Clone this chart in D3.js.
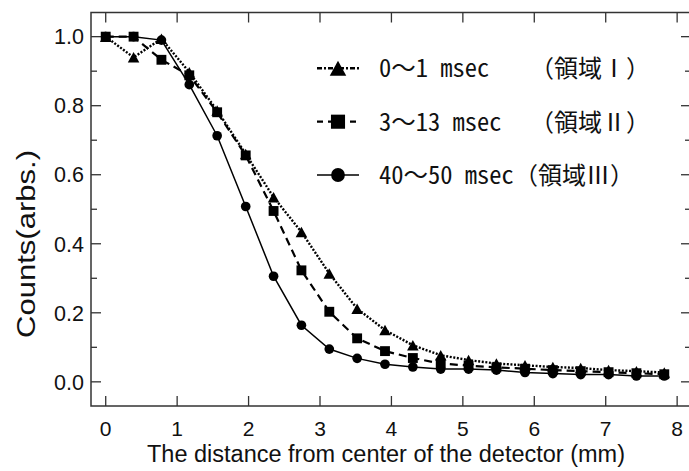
<!DOCTYPE html>
<html>
<head>
<meta charset="utf-8">
<script src="https://cdn.jsdelivr.net/npm/d3@7"></script>
<style>
  html, body { margin: 0; padding: 0; background: #fff; }
  svg { display: block; }
</style>
</head>
<body>
<div id="chart"></div>
<script>
// ---- data ----
const distance = [0, 0.39, 0.78, 1.17, 1.56, 1.96, 2.35, 2.74, 3.13, 3.52, 3.91, 4.30, 4.69, 5.08, 5.47, 5.87, 6.26, 6.65, 7.04, 7.43, 7.82];
const region1 = [1.0, 0.94, 0.994, 0.897, 0.786, 0.660, 0.535, 0.434, 0.314, 0.212, 0.150, 0.106, 0.077, 0.063, 0.053, 0.048, 0.043, 0.040, 0.034, 0.031, 0.027];
const region2 = [1.0, 1.0, 0.933, 0.888, 0.781, 0.656, 0.495, 0.323, 0.203, 0.126, 0.089, 0.069, 0.053, 0.047, 0.042, 0.038, 0.034, 0.031, 0.028, 0.025, 0.022];
const region3 = [1.0, 1.0, 0.99, 0.861, 0.713, 0.508, 0.306, 0.164, 0.095, 0.068, 0.051, 0.043, 0.037, 0.037, 0.034, 0.027, 0.024, 0.021, 0.021, 0.017, 0.017];
const legendRange = ["0～1 msec", "3～13 msec", "40～50 msec"];
const legendRegion = ["（領域Ⅰ）", "（領域Ⅱ）", "（領域Ⅲ）"];
const xTicks = [0, 1, 2, 3, 4, 5, 6, 7, 8];
const yTicks = [0.0, 0.2, 0.4, 0.6, 0.8, 1.0];
const yMinorTicks = [0.1, 0.3, 0.5, 0.7, 0.9];
const xTitle = "The distance from center of the detector (mm)";
const yTitle = "Counts(arbs.)";

// ---- layout ----
const W = 689, H = 471;
const L = 91, R = 690, T = 12.5, B = 406;

const svg = d3.select("#chart").append("svg").attr("width", W).attr("height", H);

const x = d3.scaleLinear().domain([-0.206, 8.18]).range([L, R]);
const y = d3.scaleLinear().domain([-0.07, 1.07]).range([B, T]);

const axisColor = "#333";
const g = svg.append("g");

// frame
g.append("rect").attr("x", L).attr("y", T).attr("width", R - L).attr("height", B - T)
  .attr("fill", "none").attr("stroke", axisColor).attr("stroke-width", 1.5);

// ticks (inward)
const xt = g.append("g").attr("stroke", axisColor).attr("stroke-width", 1.3);
xTicks.forEach(v => {
  xt.append("line").attr("x1", x(v)).attr("x2", x(v)).attr("y1", B).attr("y2", B - 10);
  xt.append("line").attr("x1", x(v)).attr("x2", x(v)).attr("y1", T).attr("y2", T + 10);
});
yTicks.forEach(v => {
  xt.append("line").attr("x1", L).attr("x2", L + 10).attr("y1", y(v)).attr("y2", y(v));
  xt.append("line").attr("x1", R).attr("x2", R - 9).attr("y1", y(v)).attr("y2", y(v));
});
yMinorTicks.forEach(v => {
  xt.append("line").attr("x1", L).attr("x2", L + 6).attr("y1", y(v)).attr("y2", y(v));
  xt.append("line").attr("x1", R).attr("x2", R - 5).attr("y1", y(v)).attr("y2", y(v));
});

const sansFont = "'Liberation Sans', Arial, sans-serif";
g.append("g").selectAll("text").data(yTicks).join("text")
  .attr("x", L - 7).attr("y", d => y(d)).attr("dy", "0.36em")
  .attr("text-anchor", "end").attr("font-family", sansFont).attr("font-size", 21.5)
  .attr("fill", "#111").text(d => d3.format(".1f")(d));
g.append("g").selectAll("text").data(xTicks).join("text")
  .attr("x", d => x(d)).attr("y", 436)
  .attr("text-anchor", "middle").attr("font-family", sansFont).attr("font-size", 21)
  .attr("fill", "#111").text(d => d);

// axis titles
g.append("text").attr("x", 386).attr("y", 462).attr("text-anchor", "middle")
  .attr("font-family", sansFont).attr("font-size", 23.5).attr("fill", "#111").text(xTitle);
g.append("text").attr("transform", "translate(26,244) rotate(-90)").attr("dy", "0.36em")
  .attr("text-anchor", "middle").attr("font-family", sansFont).attr("font-size", 25)
  .attr("textLength", 188).attr("lengthAdjust", "spacingAndGlyphs")
  .attr("fill", "#111").text(yTitle);

// ---- markers ----
function markerPath(type, s) {
  if (type === "triangle") {
    const w = s * 0.55, h = s * 0.5;
    return `M0,${-h}L${w},${h}L${-w},${h}Z`;
  }
  if (type === "square") {
    const h = s * 0.47;
    return `M${-h},${-h}H${h}V${h}H${-h}Z`;
  }
  return d3.arc()({innerRadius: 0, outerRadius: s * 0.46, startAngle: 0, endAngle: 2 * Math.PI});
}

const series = [
  {values: region3, marker: "circle", dash: null, width: 1.5},
  {values: region2, marker: "square", dash: "8,5", width: 2.2},
  {values: region1, marker: "triangle", dash: "2,1.6", width: 2.4},
];

const line = d3.line().x(d => x(d[0])).y(d => y(d[1]));
series.forEach(s => {
  const pts = distance.map((d, i) => [d, s.values[i]]);
  g.append("path").attr("d", line(pts)).attr("fill", "none").attr("stroke", "#000")
    .attr("stroke-width", s.width).attr("stroke-dasharray", s.dash);
});
series.forEach(s => {
  const pts = distance.map((d, i) => [d, s.values[i]]);
  g.append("g").selectAll("path").data(pts).join("path")
    .attr("transform", d => `translate(${x(d[0])},${y(d[1])})`)
    .attr("d", markerPath(s.marker, 10.5)).attr("fill", "#000");
});

// ---- legend ----
const legendSeries = [series[2], series[1], series[0]];
const monoFont = "'Noto Sans Mono CJK JP', 'Noto Sans CJK JP', 'DejaVu Sans Mono', monospace";
const cjkFont = "'Noto Sans CJK JP', sans-serif";
const rowY = [68.3, 121.7, 175];
const regionX = [530, 530, 514];
const legendDash = ["5,2,2,2", "6,5", null];
legendSeries.forEach((s, i) => {
  const yy = rowY[i];
  const lg = svg.append("g");
  lg.append("line").attr("x1", 317).attr("x2", 359).attr("y1", yy).attr("y2", yy)
    .attr("stroke", "#000").attr("stroke-width", s.width).attr("stroke-dasharray", legendDash[i]);
  lg.append("path").attr("transform", `translate(338,${yy})`)
    .attr("d", markerPath(s.marker, 15)).attr("fill", "#000");
  lg.append("text").attr("x", 379).attr("y", yy).attr("dy", "0.36em")
    .attr("font-family", monoFont).attr("font-size", 24.5).attr("fill", "#111")
    .text(legendRange[i]);
  lg.append("text").attr("x", regionX[i]).attr("y", yy).attr("dy", "0.37em")
    .attr("font-family", cjkFont).attr("font-size", 24).attr("fill", "#111")
    .text(legendRegion[i]);
});
</script>
</body>
</html>
